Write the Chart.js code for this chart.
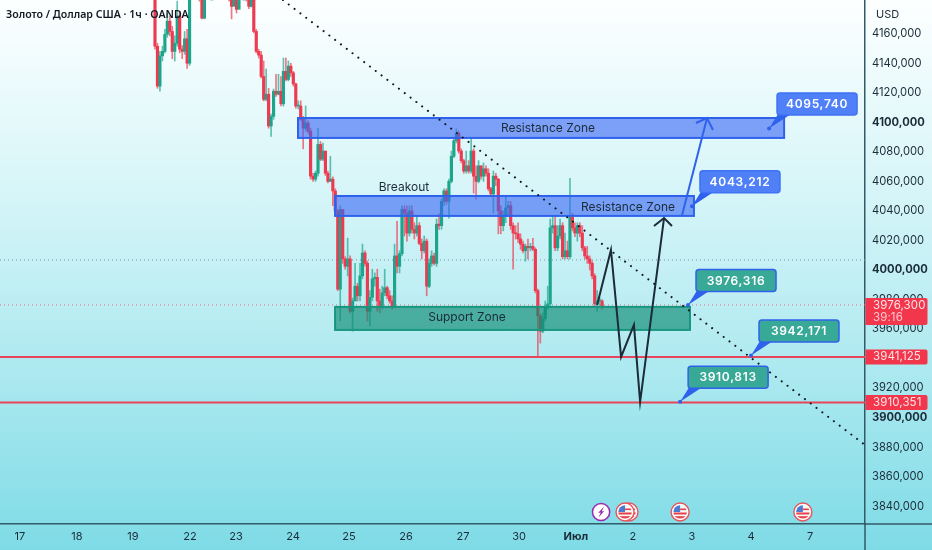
<!DOCTYPE html>
<html>
<head>
<meta charset="utf-8">
<style>
html,body{margin:0;padding:0;width:932px;height:550px;overflow:hidden;background:linear-gradient(180deg,#fdffff 0%,#d6f5f8 35%,#a9e8ef 70%,#7edbe6 100%);}
canvas{display:block;}
</style>
<script src="https://cdn.jsdelivr.net/npm/chart.js@4"></script>
</head>
<body>
<canvas id="c" width="932" height="550"></canvas>
<script>
const closes = [
4151.5,4124.5,4145,4148,4159.5,4168.5,4161.5,4148,4153.5,4172,
4149.5,4148,4156.5,4140,4185.5,4190,4195.5,4192,4187.5,4170.5,
4183.5,4190,4195.5,4195.5,4199,4195.5,4199,4195.5,4192,4189,
4185.5,4178.5,4184,4176.5,4184,4189,4189,4185.5,4178.5,4183.5,
4161.5,4148,4145.5,4131,4115.5,4119,4097.5,4104,4121,4119,
4121,4112.5,4134.5,4129,4138,4133.5,4126,4111,4111,4102,
4096,4099.5,4094,4063.5,4061.5,4065.5,4085,4075,4080.5,4065.5,
4060,4061.5,4053.5,4040,3987,4041,4007.5,4002.5,4007.5,3972,
3979,3989,3982.5,3996,4011.5,4004.5,3972,3981.5,3994,3995,
3979,3975.5,3984.5,3988,3982.5,3979,3975.5,4009.5,4002.5,4011,
4041,4038.5,4025,4040,4027.5,4025,4030,4018,4013,4019.5,
3989,4004.5,4009.5,4004.5,4031,4030,4046.5,4053.5,4046.5,4060,
4077,4087.5,4092.5,4080.5,4074,4067,4070.5,4067,4080.5,4063.5,
4060,4070.5,4063.5,4068.5,4065.5,4055,4051.5,4063.5,4061.5,4040,
4030,4036.5,4042,4043.5,4030,4025,4024.5,4021,4017.5,4013,
4016,4015,4016,4014,3986,3969,3958.5,3967,3975.5,3977,
4028.5,4030,4015,4023,4030,4009,4013,4009,4036,4028.5,
4025,4030,4025,4015,4009.5,4007.5,4004.5,3996,3977,3979,
3979,3975];
const highs = [
4189,4153.5,4148,4151.5,4163,4174,4172,4165,4158.5,4182,
4175,4152,4161.5,4163,4192,4195.5,4201,4199,4192,4189,
4187.5,4195.5,4201,4199,4202.5,4201,4202.5,4201,4197,4192,
4189,4189,4187.5,4184,4187.5,4192,4192,4189,4187.5,4186,
4184.5,4163,4149.5,4148,4141.5,4136,4123,4105.5,4122.5,4132.5,
4132.5,4131,4143.5,4143.5,4141.5,4140,4134.5,4126.5,4114.5,4114.5,
4104,4111,4101,4096,4065.5,4067,4096,4087,4086,4080.5,
4067,4077,4063,4055,4041,4043.5,4040,4009,4021.5,4009.5,
3981,4004.5,3991,4004.5,4017.5,4013,4006,3986,4000.5,3998,
4000.5,3987,3989,4000.5,3989,3986,3982.5,4017.5,4033,4013,
4043.5,4043.5,4043.5,4043.5,4043.5,4032,4036.5,4032,4021,4023,
4021,4007.5,4013,4011.5,4034.5,4038,4048,4055,4055,4061.5,
4080.5,4088.5,4095.5,4094,4082,4075,4080.5,4074,4089.5,4082,
4070.5,4074,4070.5,4072.5,4070.5,4068.5,4056,4067,4065.5,4062,
4043.5,4040,4050.5,4046.5,4046.5,4032,4030,4032,4024.5,4019.5,
4017.5,4021,4018,4021.5,4015,3987,3970,3971,3979,3989,
4034.5,4036.5,4036.5,4030,4034.5,4032,4025,4019.5,4062,4038.5,
4032,4032,4032,4030,4016,4016,4009.5,4006,3997.5,3986,
3981.5,3980];
const lows = [
4149.5,4123,4121,4141.5,4147,4157.5,4158.5,4143,4141.5,4151.5,
4147,4143,4146,4136.5,4138.5,4185.5,4190,4189,4182,4170,
4170,4185.5,4192,4192,4194,4192,4194,4192,4189,4185.5,
4182,4170,4180,4174,4179.5,4185.5,4185.5,4182,4177,4178,
4160.5,4147,4143.5,4130,4114.5,4114.5,4096,4090.5,4102,4117.5,
4118.5,4111,4111,4128,4128,4131,4124.5,4109.5,4109,4101,
4082,4094,4092.5,4061.5,4060,4060,4063.5,4074,4074,4064,
4059,4060,4043.5,4038.5,3986,3965.5,4004.5,4000.5,3996,3971,
3958.5,3984.5,3979,3979,3994,4002.5,3965.5,3962,3979,3989,
3972,3971,3973.5,3982.5,3980.5,3977.5,3973.5,3974.5,3998,3998,
4009.5,4023,4019.5,4023,4025,4021,4023,4017,4007.5,4011.5,
3982.5,3988,4002.5,4003.5,4002.5,4027.5,4027.5,4043.5,4044.5,4035,
4059,4076,4086,4079,4072.5,4065.5,4065.5,4065.5,4065.5,4052,
4048,4059,4061.5,4060,4063.5,4053.5,4050,4038.5,4057,4024.5,
4024.5,4026.5,4032,4036.5,4027.5,4000.5,4021,4018.5,4014,4011.5,
4006,4007.5,4013,4013,3984.5,3942,3950.5,3957.5,3965.5,3973.5,
3975.5,4025,4013,4013,4021,4007.5,4007.5,4007.5,4007.5,4026.5,
4022.5,4019.5,4022.5,4013,4007.5,4004.5,4000,3994,3975.5,3972,
3975.5,3973.5];
const firstOpen = 4190;

const tickBars = [-54.7,-31.6,-8.9,14.2,32.8,55.9,78.5,101.6,124.7,147.4,170.4,193.5,217.4,241.3,265.2];
const tickLabels = ['17','18','19','22','23','24','25','26','27','30','Июл','2','3','4','7'];

const trendBars = [51.8,287.45];
const trendPrices = [4182.8,3881.5];
const pathBars = [179,184.6,188.7,193.9,196.4,206.1];
const pathPrices = [3976.3,4013.6,3941.1,3962.8,3910.6,4035.2];
const headBars = [202,206.1,209.3];
const headPrices = [4029.8,4035.2,4029.8];
const riseBars = [213.4,223.5];
const risePrices = [4037.2,4102.9];
const riseHeadBars = [219,223.5,225.9];
const riseHeadPrices = [4099.5,4102.9,4094.8];

const zoneLefts = [57.9,72.9,72.9];
const zoneRights = [254.7,218.2,216.6];
const zoneTops = [4102.9,4050.1,3975];
const zoneBottoms = [4089.4,4036.6,3959.4];
const zoneKinds = ['blue','blue','teal'];

const noteTexts = ['Resistance Zone','Resistance Zone','Support Zone','Breakout'];
const noteBars = [159.1,191.5,126.3,100.8];
const notePrices = [4096.1,4042.7,3968.2,4056.2];

const calloutBars = [248.6,217.4,215.8,241.3,212.6];
const calloutPrices = [4095.74,4043.212,3976.316,3942.171,3910.813];
const calloutTexts = ['4095,740','4043,212','3976,316','3942,171','3910,813'];
const calloutKinds = ['blue','blue','teal','teal','teal'];

const levelPrices = [3941.125,3910.351];
const currentPrice = 3976.3;
const prevClose = 4006.8;
const axisLabelTexts = ['3976,300','3941,125','3910,351'];
const countdown = '39:16';

const eventBars = [191.9,212.6,262.3,190.3];
const boltBar = 180.6;

const title = 'Золото / Доллар США · 1ч · OANDA';
const currency = 'USD';

const RED = '#ee3a50', GREEN = '#1da58c', BLUE = '#2f62ec', DARK = '#1b2b38', AXIS = '#335a66';
const bars = closes.map((_, i) => i);
const opens = closes.map((_, i) => i ? closes[i - 1] : firstOpen);
const candleColors = closes.map((c, i) => c >= opens[i] ? GREEN : RED);
const xy = (xs, ys) => xs.map((x, i) => ({x, y: ys[i]}));
const xMin = -62.75, xMax = 287.45;

function lineDs(data, color, width, order, extra) {
  return Object.assign({type: 'line', data, borderColor: color, borderWidth: width,
    pointRadius: 0, fill: false, tension: 0, order}, extra || {});
}

function roundRect(g, x, y, w, h, r) {
  g.beginPath();
  g.roundRect(x, y, w, h, r);
}

function drawZones(chart) {
  const g = chart.ctx, X = chart.scales.x, Y = chart.scales.y;
  g.save();
  zoneLefts.forEach((_, i) => {
    const l = X.getPixelForValue(zoneLefts[i]), r = X.getPixelForValue(zoneRights[i]);
    const t = Y.getPixelForValue(zoneTops[i]), b = Y.getPixelForValue(zoneBottoms[i]);
    const blue = zoneKinds[i] === 'blue';
    g.fillStyle = blue ? 'rgba(55,100,245,0.6)' : 'rgba(15,140,115,0.66)';
    g.strokeStyle = blue ? BLUE : '#17977f';
    g.lineWidth = 2;
    g.fillRect(l, t, r - l, b - t);
    g.strokeRect(l, t, r - l, b - t);
  });
  g.font = '12px "Inter", sans-serif';
  g.fillStyle = DARK;
  g.textAlign = 'center';
  g.textBaseline = 'middle';
  noteTexts.forEach((s, i) => g.fillText(s, X.getPixelForValue(noteBars[i]), Y.getPixelForValue(notePrices[i])));
  g.restore();
}

function drawCallouts(chart) {
  const g = chart.ctx, X = chart.scales.x, Y = chart.scales.y;
  g.save();
  calloutTexts.forEach((s, i) => {
    const ax = X.getPixelForValue(calloutBars[i]), ay = Y.getPixelForValue(calloutPrices[i]);
    const bx = ax + 8, by = ay - 35.5, bw = 80, bh = 22;
    const blue = calloutKinds[i] === 'blue';
    g.fillStyle = BLUE;
    g.beginPath();
    g.moveTo(ax, ay);
    g.lineTo(bx + 1, by + bh - 1);
    g.lineTo(bx + 14, by + bh - 1);
    g.closePath();
    g.fill();
    g.beginPath();
    g.arc(ax, ay, 2, 0, Math.PI * 2);
    g.fill();
    roundRect(g, bx, by, bw, bh, 3);
    g.fillStyle = blue ? '#4f80f8' : '#38a897';
    g.fill();
    g.lineWidth = 1.5;
    g.strokeStyle = blue ? '#3f72f4' : BLUE;
    g.stroke();
    g.fillStyle = '#ffffff';
    g.font = '600 12px "Inter", sans-serif';
    g.letterSpacing = '0.7px';
    g.textAlign = 'center';
    g.textBaseline = 'middle';
    g.fillText(s, bx + bw / 2, by + bh / 2 + 0.5);
    g.letterSpacing = '0px';
  });
  g.restore();
}

function drawAxisLabels(chart) {
  const g = chart.ctx, Y = chart.scales.y, left = chart.chartArea.right;
  const prices = [currentPrice].concat(levelPrices);
  g.save();
  g.textBaseline = 'middle';
  g.textAlign = 'left';
  prices.forEach((p, i) => {
    const y = Y.getPixelForValue(p);
    const top = i === 0 ? y - 7 : y - 7.5, h = i === 0 ? 27 : 15;
    g.fillStyle = '#f2364b';
    roundRect(g, left + 0.5, top, 62, h, [0, 2, 2, 0]);
    g.fill();
    g.fillStyle = '#ffe3e6';
    g.font = '11.5px "Inter", sans-serif';
    g.letterSpacing = '0.1px';
    g.fillText(axisLabelTexts[i], left + 8, top + 7.5);
    if (i === 0) { g.fillStyle = '#ffc6cc'; g.fillText(countdown, left + 8, top + 20); }
    g.letterSpacing = '0px';
  });
  g.restore();
}

function drawFlag(g, x, y) {
  g.save();
  g.beginPath(); g.arc(x, y, 9, 0, Math.PI * 2); g.fillStyle = '#ffffff'; g.fill();
  g.lineWidth = 1.4; g.strokeStyle = '#e8545c'; g.stroke();
  g.beginPath(); g.arc(x, y, 6.8, 0, Math.PI * 2); g.clip();
  g.fillStyle = '#f7f7f7'; g.fillRect(x - 7, y - 7, 14, 14);
  g.fillStyle = '#e8404a';
  g.fillRect(x - 7, y + 0.5, 14, 2);
  g.fillRect(x - 7, y + 4.2, 14, 2.4);
  g.fillRect(x, y - 3.5, 7, 1.6);
  g.fillStyle = '#4a7bd0'; g.fillRect(x - 7, y - 7, 7, 7);
  g.restore();
}

function drawIcons(chart) {
  const g = chart.ctx, X = chart.scales.x;
  const y = chart.chartArea.bottom - 12;
  eventBars.forEach(b => drawFlag(g, X.getPixelForValue(b), y));
  const x = X.getPixelForValue(boltBar);
  g.save();
  g.beginPath(); g.arc(x, y, 8.6, 0, Math.PI * 2); g.fillStyle = '#ffffff'; g.fill();
  g.lineWidth = 1.5; g.strokeStyle = '#9c27b0'; g.stroke();
  g.fillStyle = '#9c27b0';
  g.beginPath();
  g.moveTo(x + 3, y - 5.5); g.lineTo(x - 3, y + 1); g.lineTo(x - 0.3, y + 0.6);
  g.lineTo(x - 2.6, y + 5.5); g.lineTo(x + 3.2, y - 1); g.lineTo(x + 0.6, y - 0.6);
  g.closePath(); g.fill();
  g.restore();
}

function drawHeader(chart) {
  const g = chart.ctx;
  g.save();
  g.fillStyle = '#131722';
  g.textBaseline = 'middle';
  g.textAlign = 'left';
  g.font = '600 10.6px "Noto Sans", sans-serif';
  g.fillText(title, 6, 14.5);
  g.fillStyle = '#1b2b38';
  g.font = '11px "Inter", sans-serif';
  g.fillText(currency, 876, 15);
  g.restore();
}

function drawAxisExtensions(chart) {
  const g = chart.ctx, a = chart.chartArea;
  g.save();
  g.strokeStyle = AXIS;
  g.lineWidth = 1.5;
  g.beginPath();
  g.moveTo(a.right, a.bottom); g.lineTo(chart.width, a.bottom);
  g.moveTo(a.right, a.bottom); g.lineTo(a.right, chart.height);
  g.stroke();
  g.restore();
}

const overlay = {
  id: 'overlay',
  afterDatasetDraw(chart, args) { if (args.index === 1) drawZones(chart); },
  afterDraw(chart) {
    drawAxisExtensions(chart);
    drawCallouts(chart);
    drawAxisLabels(chart);
    drawIcons(chart);
    drawHeader(chart);
  }
};

new Chart(document.getElementById('c'), {
  type: 'bar',
  data: {
    datasets: [
      {label: 'wicks', data: bars.map(i => ({x: i, y: [lows[i], highs[i]]})), backgroundColor: candleColors.map(c => c + 'b0'),
        barThickness: 1, grouped: false, order: 10, minBarLength: 1},
      {label: 'bodies', data: bars.map(i => ({x: i, y: [opens[i], closes[i]]})), backgroundColor: candleColors,
        barThickness: 2.5, grouped: false, order: 9, minBarLength: 1},
      lineDs(xy(trendBars, trendPrices), '#10161c', 2, 1, {borderDash: [0.1, 7.2], borderCapStyle: 'round'}),
      lineDs(xy(pathBars, pathPrices), DARK, 2, 2, {borderJoinStyle: 'miter'}),
      lineDs(xy(headBars, headPrices), DARK, 2, 2),
      lineDs(xy(riseBars, risePrices), BLUE, 2, 2),
      lineDs(xy(riseHeadBars, riseHeadPrices), BLUE, 2, 2),
      lineDs(xy([xMin, xMax], [levelPrices[0], levelPrices[0]]), '#e8455a', 2, 3),
      lineDs(xy([xMin, xMax], [levelPrices[1], levelPrices[1]]), '#e8455a', 2, 3),
      lineDs(xy([xMin, xMax], [currentPrice, currentPrice]), '#e06a7e', 1, 11, {borderDash: [1, 3]}),
      lineDs(xy([xMin, xMax], [prevClose, prevClose]), '#7e949c', 1, 11, {borderDash: [1, 3]})
    ]
  },
  options: {
    responsive: false,
    animation: false,
    devicePixelRatio: 1,
    layout: {padding: 0},
    plugins: {legend: {display: false}, tooltip: {enabled: false}},
    scales: {
      x: {
        type: 'linear', min: xMin, max: xMax, offset: false,
        grid: {display: false, offset: false, drawTicks: false},
        border: {display: true, color: AXIS, width: 1.5},
        afterBuildTicks(s) { s.ticks = tickBars.map(value => ({value})); },
        afterFit(s) { s.height = 26; s.paddingLeft = 0; s.paddingRight = 0; },
        ticks: {
          autoSkip: false, maxRotation: 0, padding: 6, color: '#1b2b38',
          callback: (v, i) => tickLabels[i],
          font: c => ({family: 'Inter', size: 11, weight: tickLabels[c.index] === 'Июл' ? '700' : '400'})
        }
      },
      y: {
        position: 'right', min: 3828, max: 4182.8,
        grid: {display: false, drawTicks: false},
        border: {display: true, color: AXIS, width: 1.5},
        afterFit(s) { s.width = 67; s.paddingTop = 0; s.paddingBottom = 0; },
        ticks: {
          stepSize: 20, autoSkip: false, includeBounds: false, padding: 7, color: '#1b2b38',
          callback: v => v > 4170 ? '' : v + ',000',
          font: c => ({family: 'Inter', size: 11.2, weight: c.tick && c.tick.value % 100 === 0 ? '700' : '400'})
        }
      }
    }
  },
  plugins: [overlay]
});
</script>
</body>
</html>
